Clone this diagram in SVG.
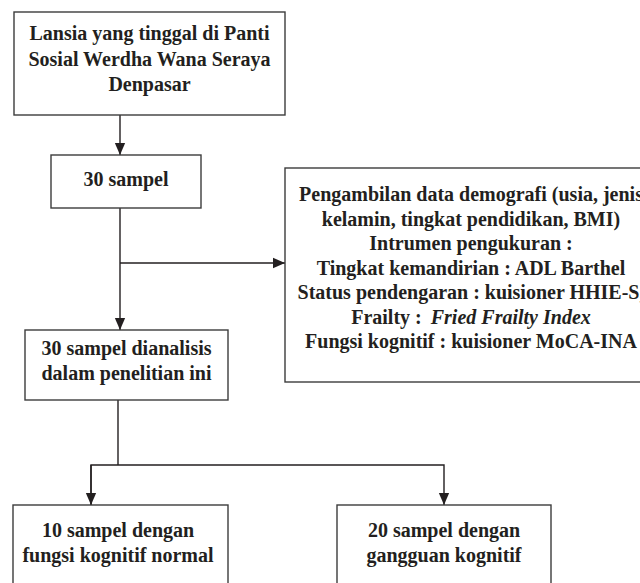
<svg xmlns="http://www.w3.org/2000/svg" width="640" height="583" viewBox="0 0 640 583">
<style>
.box{fill:#fff;stroke:#3c3c3c;stroke-width:1.4}
.t{font-family:"Liberation Serif",serif;font-size:20px;font-weight:bold;fill:#231f20;text-anchor:middle}
.c{fill:none;stroke:#231f20;stroke-width:1.4}
</style>
<defs>
<marker id="ah" markerWidth="12" markerHeight="12" viewBox="0 0 14 12" refX="14" refY="6" orient="auto" markerUnits="userSpaceOnUse">
<path d="M0,0 L14,6 L0,12 Z" fill="#231f20"/>
</marker>
</defs>
<rect width="640" height="583" fill="#fff"/>
<g id="connectors">
<line class="c" x1="120" y1="115" x2="120" y2="155" marker-end="url(#ah)"/>
<line class="c" x1="120" y1="208" x2="120" y2="330" marker-end="url(#ah)"/>
<line class="c" x1="120" y1="263" x2="285" y2="263" marker-end="url(#ah)"/>
<polyline class="c" points="118,400 118,465"/>
<polyline class="c" points="91,505 91,465 444,465 444,505" marker-end="url(#ah)"/>
<line class="c" x1="91" y1="465" x2="91" y2="505" marker-end="url(#ah)"/>
</g>
<g id="n1">
<rect class="box" x="14" y="12" width="271" height="103"/>
<text class="t" x="149.5" y="40">Lansia yang tinggal di Panti</text>
<text class="t" x="149.5" y="65.5">Sosial Werdha Wana Seraya</text>
<text class="t" x="149.5" y="91">Denpasar</text>
</g>
<g id="n2">
<rect class="box" x="51" y="155" width="150" height="53"/>
<text class="t" x="126" y="186">30 sampel</text>
</g>
<g id="n3">
<rect class="box" x="285" y="168" width="372" height="214"/>
<text class="t" x="471" y="201">Pengambilan data demografi (usia, jenis</text>
<text class="t" x="471" y="225.5">kelamin, tingkat pendidikan, BMI)</text>
<text class="t" x="471" y="250">Intrumen pengukuran :</text>
<text class="t" x="471" y="274.5">Tingkat kemandirian : ADL Barthel</text>
<text class="t" x="471" y="299">Status pendengaran : kuisioner HHIE-S,</text>
<text class="t" x="471" y="323.5">Frailty : <tspan dx="4" font-style="italic">Fried Frailty Index</tspan></text>
<text class="t" x="471" y="348">Fungsi kognitif : kuisioner MoCA-INA</text>
</g>
<g id="n4">
<rect class="box" x="25" y="330" width="203" height="70"/>
<text class="t" x="126.5" y="355">30 sampel dianalisis</text>
<text class="t" x="126.5" y="380">dalam penelitian ini</text>
</g>
<g id="n5">
<rect class="box" x="13" y="505" width="215" height="90"/>
<text class="t" x="118" y="537">10 sampel dengan</text>
<text class="t" x="118" y="562">fungsi kognitif normal</text>
</g>
<g id="n6">
<rect class="box" x="337" y="505" width="214" height="90"/>
<text class="t" x="444" y="537">20 sampel dengan</text>
<text class="t" x="444" y="562">gangguan kognitif</text>
</g>
</svg>
